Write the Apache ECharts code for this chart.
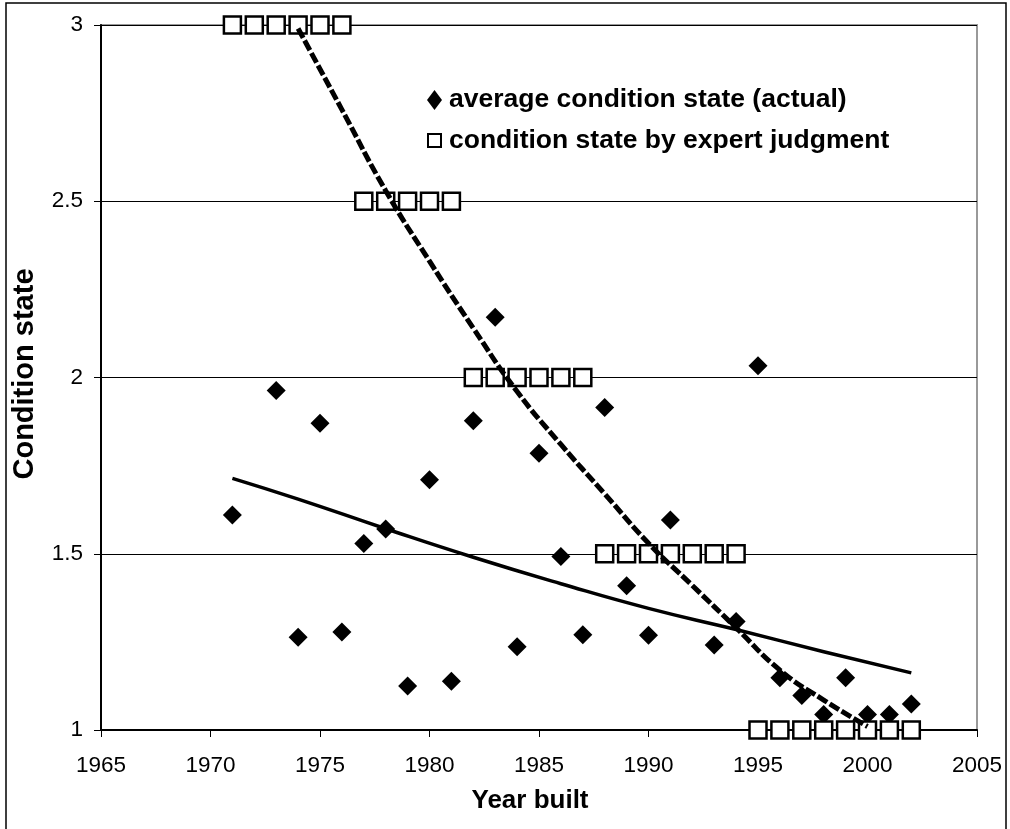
<!DOCTYPE html>
<html>
<head>
<meta charset="utf-8">
<script src="https://cdn.jsdelivr.net/npm/echarts@6/dist/echarts.min.js"></script>
<style>html,body{margin:0;padding:0;background:#fff}#c{width:1010px;height:829px}</style>
</head>
<body>
<div id="c"></div>
<script>
// ---- data ----
const actualYears  = [1971,1973,1974,1975,1976,1977,1978,1979,1980,1981,1982,1983,1984,1985,1986,1987,1988,1989,1990,1991,1993,1994,1995,1996,1997,1998,1999,2000,2001,2002];
const actualValues = [1.61,1.963,1.263,1.87,1.278,1.529,1.57,1.125,1.71,1.138,1.877,2.171,1.236,1.785,1.492,1.27,1.915,1.409,1.269,1.596,1.241,1.308,2.033,1.148,1.098,1.044,1.148,1.044,1.044,1.074];

const expertYears  = [1971,1972,1973,1974,1975,1976,1977,1978,1979,1980,1981,1982,1983,1984,1985,1986,1987,1988,1989,1990,1991,1992,1993,1994,1995,1996,1997,1998,1999,2000,2001,2002];
const expertValues = [3,3,3,3,3,3,2.5,2.5,2.5,2.5,2.5,2,2,2,2,2,2,1.5,1.5,1.5,1.5,1.5,1.5,1.5,1,1,1,1,1,1,1,1];

const actualTrendYears  = [1971,1974,1978,1982,1986,1990,1994,1998,2002];
const actualTrendValues = [1.714,1.655,1.571,1.49,1.415,1.345,1.285,1.222,1.162];

const expertTrendYears  = [1974,1976,1978,1980,1982,1984,1986,1988,1990,1992,1994,1996,1998,2000];
const expertTrendValues = [2.99,2.76,2.53,2.33,2.14,1.96,1.81,1.67,1.53,1.41,1.29,1.17,1.085,1.01];

const seriesNames = ['average condition state (actual)', 'condition state by expert judgment'];
const xAxisTitle = 'Year built';
const yAxisTitle = 'Condition state';

const zip = (a, b) => a.map((v, i) => [v, b[i]]);
const FONT = '"Liberation Sans", Arial, sans-serif';

const chart = echarts.init(document.getElementById('c'), null, {renderer: 'canvas'});
chart.setOption({
  animation: false,
  backgroundColor: '#fff',
  grid: {left: 101, right: 33, top: 25, bottom: 99, show: true, borderColor: '#999', borderWidth: 2, backgroundColor: 'transparent'},
  xAxis: {
    type: 'value', min: 1965, max: 2005, interval: 5,
    axisLine: {show: true, onZero: false, lineStyle: {color: '#000', width: 2}},
    axisTick: {show: true, inside: false, length: 7, lineStyle: {color: '#000', width: 1}},
    axisLabel: {color: '#000', fontSize: 22.5, fontFamily: FONT, margin: 24, formatter: v => String(v)},
    splitLine: {show: false}
  },
  yAxis: {
    type: 'value', min: 1, max: 3, interval: 0.5,
    axisLine: {show: true, onZero: false, lineStyle: {color: '#000', width: 2}},
    axisTick: {show: true, inside: false, length: 7, lineStyle: {color: '#000', width: 1}},
    axisLabel: {color: '#000', fontSize: 22.5, fontFamily: FONT, margin: 18, formatter: v => String(v)},
    splitLine: {show: true, lineStyle: {color: '#000', width: 1}}
  },
  legend: {
    show: true, orient: 'vertical', left: 421, top: 80,
    itemWidth: 15, itemHeight: 20, itemGap: 11, symbolKeepAspect: false,
    data: [
      {name: seriesNames[0], icon: 'path://M7.5,0L15,10L7.5,20L0,10Z'},
      {name: seriesNames[1], icon: 'path://M0,0M15,20M1,3L14,3L14,16L1,16Z'}
    ],
    textStyle: {color: '#000', fontSize: 26.5, fontWeight: 'bold', fontFamily: FONT, lineHeight: 30, padding: [0, 0, 0, 2]}
  },
  graphic: [
    {type: 'rect', silent: true, shape: {x: 6, y: 3, width: 1000, height: 830}, style: {fill: 'none', stroke: '#000', lineWidth: 1.5}, z: -1},
    {type: 'text', silent: true, x: 530, y: 801, style: {text: xAxisTitle, fontSize: 26, fontWeight: 'bold', fontFamily: FONT, fill: '#000', align: 'center', verticalAlign: 'middle'}},
    {type: 'text', silent: true, x: 25, y: 374, rotation: Math.PI / 2, style: {text: yAxisTitle, fontSize: 29, fontWeight: 'bold', fontFamily: FONT, fill: '#000', align: 'center', verticalAlign: 'middle'}}
  ],
  series: [
    {
      name: seriesNames[0], type: 'scatter', symbol: 'diamond', symbolSize: 19,
      itemStyle: {color: '#000', opacity: 1}, data: zip(actualYears, actualValues), z: 3
    },
    {
      name: seriesNames[1], type: 'scatter', symbol: 'rect', symbolSize: 17,
      itemStyle: {color: '#fff', borderColor: '#000', borderWidth: 2.5, opacity: 1}, data: zip(expertYears, expertValues), z: 3
    },
    {
      name: 'actual trend', type: 'line', smooth: true, showSymbol: false, symbol: 'none',
      lineStyle: {color: '#000', width: 3.5}, data: zip(actualTrendYears, actualTrendValues), z: 4
    },
    {
      name: 'expert trend', type: 'line', smooth: true, showSymbol: false, symbol: 'none',
      lineStyle: {color: '#000', width: 5, type: [11, 3]}, data: zip(expertTrendYears, expertTrendValues), z: 4
    }
  ]
});
</script>
</body>
</html>
